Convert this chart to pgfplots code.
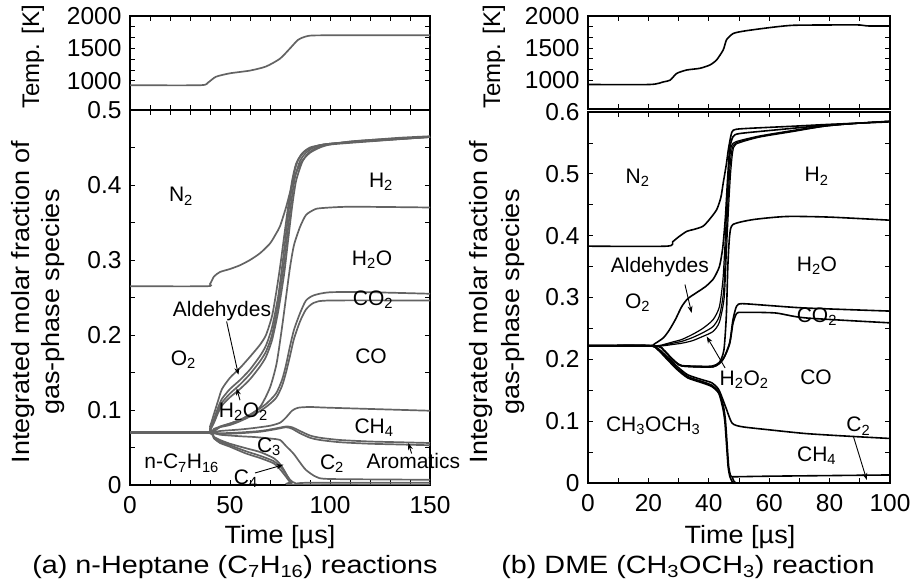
\documentclass[border=0pt]{standalone}
\usepackage{fontspec}
\setmainfont{Liberation Sans}
\newfontfamily\wide{Liberation Sans}[FakeStretch=1.08]
\newfontfamily\wider{Liberation Sans}[FakeStretch=1.15]
\usepackage{pgfplots}
\pgfplotsset{compat=1.18}
\usetikzlibrary{arrows.meta}
\definecolor{lg}{HTML}{636363}
\newcommand{\sub}[1]{\textsubscript{#1}}
\pgfplotsset{
  base/.style={scale only axis, tick align=inside, major tick length=5pt, minor tick length=5pt,
    every tick/.style={black, line width=0.8pt},
    ticklabel style={font=\fontsize{24.5}{24.5}\selectfont},
    yticklabel style={xshift=-5pt},
    xticklabel style={yshift=-8pt},
    /pgf/number format/assume math mode=true,
    /pgf/number format/1000 sep={},
    clip mode=individual,
    every axis plot/.append style={no marks, smooth, tension=0.4}},
}
\tikzset{
  lp/.style={lg, line width=1.7pt},
  rp/.style={black, line width=1.6pt},
  spec/.style={font=\fontsize{21}{21}\selectfont},
  arr/.style={-{Stealth[length=7pt,width=5pt]}, line width=0.9pt, black},
}
\begin{document}
\begin{tikzpicture}
\useasboundingbox (0pt,0pt) rectangle (910pt,583pt);
% ===== Left top: temperature =====
\begin{axis}[base, at={(130pt,473pt)}, anchor=south west, width=300pt, height=94pt,
  xmin=0, xmax=150, ymin=550, ymax=2000, xtick={0,50,100,150}, xticklabels={},
  minor x tick num=4, ytick={1000,1500,2000}, minor y tick num=2, axis line style={line width=1.2pt}]
\addplot[lp] coordinates {(0,932)(35,932)(39,973)(43,1063)(50,1116)(60,1158)(68,1221)(75,1342)(80,1500)(84,1632)(87.5,1680)(91.7,1700)(110,1702)(150,1702)};
\end{axis}
% ===== Left bottom: species =====
\begin{axis}[base, at={(130pt,98pt)}, anchor=south west, width=300pt, height=375pt,
  xmin=0, xmax=150, ymin=0, ymax=0.5, xtick={0,50,100,150}, minor x tick num=4,
  ytick={0,0.1,0.2,0.3,0.4,0.5}, minor y tick num=1, axis line style={line width=1.2pt},
  yticklabel style={/pgf/number format/fixed, /pgf/number format/precision=1}]
% N2 boundary
\addplot[lp] coordinates {(0,0.265)(38,0.265)(40,0.268)(42,0.278)(45,0.284)(50,0.288)(55,0.293)(60,0.300)(65,0.309)(70,0.322)(73,0.335)(75,0.345)(78,0.37)(80,0.39)(83,0.416)(86,0.432)(90,0.443)(95,0.450)(100,0.454)(110,0.458)(120,0.460)(135,0.463)(150,0.465)};
% O2 / aldehydes / H2O2 group
\addplot[lp] coordinates {(0,0.07)(38,0.07)(40,0.078)(42,0.095)(44,0.112)(46,0.128)(50,0.143)(55,0.156)(60,0.171)(65,0.187)(68,0.2)(71,0.225)(73,0.255)(75,0.29)(77,0.33)(79,0.37)(81,0.405)(83,0.428)(86,0.442)(90,0.45)(95,0.453)(100,0.455)(120,0.46)(150,0.464)};
\addplot[lp] coordinates {(0,0.07)(38,0.07)(40,0.075)(42,0.088)(44,0.103)(46,0.115)(50,0.128)(55,0.14)(60,0.154)(65,0.172)(68,0.186)(71,0.21)(74,0.25)(76,0.29)(78,0.335)(80,0.38)(82,0.415)(84,0.433)(87,0.444)(90,0.449)(100,0.455)(150,0.464)};
\addplot[lp] coordinates {(0,0.07)(38,0.07)(40,0.074)(42,0.085)(44,0.099)(46,0.11)(50,0.122)(55,0.134)(60,0.148)(65,0.165)(68,0.178)(71,0.2)(74,0.24)(76.5,0.285)(78.5,0.33)(80.5,0.375)(82.5,0.41)(85,0.432)(88,0.443)(92,0.45)(100,0.455)(150,0.464)};
\addplot[lp] coordinates {(0,0.07)(38,0.07)(40,0.073)(42,0.083)(44,0.096)(46,0.106)(50,0.117)(55,0.128)(60,0.141)(65,0.158)(68,0.171)(71,0.193)(74,0.23)(77,0.28)(79,0.325)(81,0.37)(83,0.405)(86,0.43)(89,0.442)(93,0.449)(100,0.454)(150,0.464)};
% H2O top
\addplot[lp] coordinates {(0,0.07)(38,0.07)(42,0.075)(50,0.082)(58,0.09)(65,0.104)(70,0.13)(73.3,0.162)(76,0.21)(78,0.25)(80,0.29)(82,0.32)(85,0.344)(88,0.36)(92,0.367)(95,0.369)(110,0.371)(150,0.37)};
% CO2 top, CO top
\addplot[lp] coordinates {(0,0.07)(38,0.07)(45,0.078)(50,0.082)(55,0.087)(62,0.097)(68,0.108)(73,0.122)(76,0.14)(78,0.16)(80,0.185)(82,0.207)(85,0.229)(88,0.246)(92,0.253)(100,0.257)(120,0.257)(150,0.255)};
\addplot[lp] coordinates {(0,0.07)(38,0.07)(45,0.077)(50,0.080)(55,0.085)(62,0.094)(68,0.104)(73,0.116)(76,0.132)(78,0.15)(80,0.172)(82,0.195)(85,0.218)(88,0.234)(92,0.243)(100,0.246)(150,0.246)};
% CH4 top
\addplot[lp] coordinates {(0,0.07)(38,0.07)(45,0.072)(55,0.074)(62,0.076)(70,0.079)(75,0.083)(78,0.09)(81,0.099)(84,0.103)(90,0.104)(100,0.103)(150,0.099)};
% Aromatics
\addplot[lp] coordinates {(0,0.07)(38,0.07)(45,0.069)(55,0.07)(65,0.072)(72,0.075)(78,0.078)(81,0.077)(85,0.072)(90,0.066)(95,0.063)(105,0.06)(120,0.058)(135,0.057)(150,0.056)};
\addplot[lp] coordinates {(0,0.07)(38,0.07)(45,0.068)(55,0.069)(65,0.071)(72,0.074)(78,0.077)(81,0.075)(85,0.069)(90,0.063)(95,0.06)(105,0.057)(120,0.055)(135,0.054)(150,0.053)};
% C3 top
\addplot[lp] coordinates {(0,0.07)(38,0.07)(45,0.067)(55,0.065)(62,0.064)(70,0.062)(75,0.06)(78,0.052)(81.7,0.042)(85,0.03)(88,0.02)(93,0.011)(100,0.008)(150,0.007)};
% C4 / n-C7H16
\addplot[lp] coordinates {(0,0.07)(38,0.07)(42,0.064)(45,0.06)(50,0.055)(58,0.049)(65,0.044)(71.7,0.036)(75,0.028)(77,0.02)(79,0.01)(81,0.003)(83,0.0)(150,0.0)};
\addplot[lp] coordinates {(0,0.07)(38,0.07)(42,0.063)(45,0.058)(50,0.053)(58,0.045)(65,0.039)(71.7,0.032)(75,0.025)(78,0.015)(80,0.007)(83,0.002)(90,0.003)(150,0.003)};
\addplot[lp] coordinates {(0,0.07)(38,0.07)(42,0.062)(45,0.056)(50,0.051)(58,0.042)(65,0.036)(71.7,0.029)(75,0.021)(78,0.011)(80,0.004)(82,0)(150,0)};
% labels
\node[spec] at (axis cs:25.5,0.385) {N\sub{2}};
\node[spec] at (axis cs:125.5,0.404) {H\sub{2}};
\node[spec] at (axis cs:121,0.301) {H\sub{2}O};
\node[spec] at (axis cs:121.5,0.247) {CO\sub{2}};
\node[spec] at (axis cs:120.5,0.172) {CO};
\node[spec] at (axis cs:122,0.077) {CH\sub{4}};
\node[spec] at (axis cs:26.7,0.167) {O\sub{2}};
\node[spec] at (axis cs:46,0.232) {Aldehydes};
\node[spec] at (axis cs:56.7,0.098) {H\sub{2}O\sub{2}};
\node[spec] at (axis cs:25.8,0.029) {n-C\sub{7}H\sub{16}};
\node[spec] at (axis cs:69.5,0.051) {C\sub{3}};
\node[spec] at (axis cs:57.9,0.009) {C\sub{4}};
\node[spec] at (axis cs:101,0.029) {C\sub{2}};
\node[spec] at (axis cs:141.7,0.032) {Aromatics};
\draw[arr] (axis cs:48.3,0.218) -- (axis cs:54.2,0.147);
\draw[arr] (axis cs:55,0.113) -- (axis cs:53.3,0.129);
\draw[arr] (axis cs:62.5,0.016) -- (axis cs:76.7,0.027);
\draw[arr] (axis cs:140.8,0.042) -- (axis cs:139.2,0.056);
\end{axis}
% ===== Right top: temperature =====
\begin{axis}[base, at={(588pt,474pt)}, anchor=south west, width=302pt, height=93pt,
  xmin=0, xmax=100, ymin=550, ymax=2000, xtick={0,20,40,60,80,100}, xticklabels={},
  minor x tick num=1, ytick={1000,1500,2000}, minor y tick num=2, axis line style={line width=1.8pt}]
\addplot[rp] coordinates {(0,932)(20.5,932)(25,973)(27.2,1000)(29.4,1105)(32.7,1158)(37,1184)(40.4,1237)(42.6,1316)(44.8,1474)(45.9,1632)(48.1,1727)(51.4,1763)(57,1800)(62.5,1832)(68,1855)(79,1860)(90,1860)(92.5,1845)(100,1845)};
\end{axis}
% ===== Right bottom: species =====
\begin{axis}[base, at={(588pt,100pt)}, anchor=south west, width=302pt, height=371pt,
  xmin=0, xmax=100, ymin=0, ymax=0.6, xtick={0,20,40,60,80,100}, minor x tick num=1,
  ytick={0,0.1,0.2,0.3,0.4,0.5,0.6}, minor y tick num=1, axis line style={line width=1.8pt},
  yticklabel style={/pgf/number format/fixed, /pgf/number format/precision=1}]
% N2
\addplot[rp] coordinates {(0,0.383)(26,0.383)(28,0.39)(30,0.398)(32.7,0.407)(35,0.41)(38,0.415)(40,0.425)(42.6,0.442)(44,0.462)(44.8,0.486)(45.8,0.515)(46.5,0.54)(47.6,0.567)(49,0.572)(55,0.574)(68,0.577)(80,0.58)(100,0.584)};
% aldehydes top (O2 bottom)
\addplot[rp] coordinates {(0,0.222)(20,0.222)(22,0.225)(25,0.235)(27,0.248)(29,0.265)(31,0.285)(33,0.298)(36,0.308)(39,0.318)(41.5,0.33)(43.5,0.35)(44.6,0.38)(45.5,0.43)(46.2,0.49)(46.9,0.54)(48,0.56)(50,0.565)(60,0.57)(80,0.579)(100,0.585)};
% H2O2 bundle
\addplot[rp, line width=1.2pt] coordinates {(0,0.222)(22,0.222)(25,0.224)(28,0.228)(31,0.232)(34.5,0.24)(38,0.25)(41.4,0.264)(43.5,0.285)(44.7,0.33)(45.5,0.4)(46.2,0.47)(46.8,0.52)(47.5,0.545)(49,0.552)(56.5,0.561)(67.5,0.57)(78.5,0.578)(90,0.582)(100,0.585)};
\addplot[rp, line width=1.2pt] coordinates {(0,0.222)(22,0.222)(25,0.223)(28,0.226)(31,0.229)(34.5,0.235)(38,0.243)(41.4,0.253)(43.5,0.27)(44.9,0.31)(45.7,0.39)(46.4,0.46)(47,0.51)(47.7,0.54)(49,0.55)(56.5,0.56)(67.5,0.569)(78.5,0.577)(90,0.582)(100,0.585)};
\addplot[rp, line width=1.2pt] coordinates {(0,0.222)(22,0.222)(25,0.222)(28,0.224)(31,0.226)(34.5,0.23)(38,0.237)(41.4,0.245)(43.5,0.26)(45.1,0.3)(45.9,0.38)(46.6,0.45)(47.2,0.5)(47.9,0.535)(49,0.548)(56.5,0.559)(67.5,0.568)(78.5,0.577)(90,0.582)(100,0.585)};
% H2O top
\addplot[rp] coordinates {(0,0.222)(22,0.222)(25,0.215)(27,0.205)(29,0.195)(31,0.19)(35,0.189)(41,0.189)(43.5,0.195)(45,0.215)(45.8,0.27)(46.3,0.35)(46.9,0.40)(48,0.418)(54.7,0.426)(65.7,0.431)(80,0.43)(100,0.425)};
% CO2 top, CO top
\addplot[rp] coordinates {(0,0.222)(22,0.222)(25,0.215)(27,0.205)(29.4,0.194)(31.6,0.189)(41.4,0.188)(44.7,0.2)(46.9,0.227)(48,0.264)(49.2,0.286)(51,0.29)(60,0.287)(72,0.283)(100,0.278)};
\addplot[rp] coordinates {(0,0.222)(22,0.222)(25,0.215)(27,0.205)(29.4,0.194)(31.6,0.189)(41.4,0.188)(44.7,0.2)(46.9,0.225)(48,0.258)(49.2,0.274)(51,0.276)(62,0.275)(72,0.267)(100,0.259)};
% CH4 top
\addplot[rp] coordinates {(0,0.222)(20,0.222)(23,0.218)(26,0.205)(29.4,0.189)(33,0.175)(37.8,0.167)(41,0.162)(43.3,0.151)(45.5,0.124)(47.7,0.097)(51,0.091)(60,0.086)(72,0.08)(85,0.076)(100,0.072)};
% CH3OCH3
\addplot[rp] coordinates {(0,0.222)(20,0.222)(23,0.217)(26,0.203)(29.4,0.186)(33,0.172)(37.8,0.164)(41,0.158)(43.3,0.147)(44.8,0.125)(45.5,0.102)(46.1,0.06)(46.6,0.026)(47.2,0.012)(47.7,0.01)(48.3,0.003)(49,0)};
\addplot[rp] coordinates {(0,0.222)(20,0.222)(23,0.216)(26,0.201)(29.4,0.184)(33,0.17)(37.8,0.162)(41,0.156)(43.3,0.145)(44.6,0.122)(45.3,0.1)(45.9,0.06)(46.4,0.026)(47,0.01)(48,0)};
% C2
\addplot[rp] coordinates {(47.7,0.01)(60,0.011)(80,0.012)(100,0.013)};
% labels
\node[spec] at (axis cs:16.4,0.494) {N\sub{2}};
\node[spec] at (axis cs:75.7,0.496) {H\sub{2}};
\node[spec] at (axis cs:75.8,0.352) {H\sub{2}O};
\node[spec] at (axis cs:23.8,0.349) {Aldehydes};
\node[spec] at (axis cs:16.4,0.292) {O\sub{2}};
\node[spec] at (axis cs:75.8,0.269) {CO\sub{2}};
\node[spec] at (axis cs:75.5,0.171) {CO};
\node[spec] at (axis cs:51.7,0.167) {H\sub{2}O\sub{2}};
\node[spec] at (axis cs:21.6,0.092) {CH\sub{3}OCH\sub{3}};
\node[spec] at (axis cs:75.7,0.044) {CH\sub{4}};
\node[spec] at (axis cs:89.5,0.092) {C\sub{2}};
\draw[arr] (axis cs:32.1,0.321) -- (axis cs:34.3,0.275);
\draw[arr] (axis cs:45.4,0.186) -- (axis cs:39.3,0.237);
\draw[arr] (axis cs:87.9,0.075) -- (axis cs:92.3,0.005);
\end{axis}
% ===== outer labels =====
\begin{scope}[every node/.style={font=\fontsize{24}{24}\selectfont}]
\node[rotate=90] at (33pt,526pt) {Temp. [K]};
\node[rotate=90, font=\wide\fontsize{25}{25}\selectfont] at (23pt,281pt) {Integrated molar fraction of};
\node[rotate=90, font=\wide\fontsize{25}{25}\selectfont] at (53pt,281pt) {gas-phase species};
\node[font=\wide\fontsize{25}{25}\selectfont] at (280pt,46pt) {Time [µs]};
\node[font=\wider\fontsize{25}{25}\selectfont] at (235pt,16pt) {(a) n-Heptane (C\sub{7}H\sub{16}) reactions};
\node[rotate=90] at (494pt,526pt) {Temp. [K]};
\node[rotate=90, font=\wide\fontsize{25}{25}\selectfont] at (481pt,281pt) {Integrated molar fraction of};
\node[rotate=90, font=\wide\fontsize{25}{25}\selectfont] at (513pt,281pt) {gas-phase species};
\node[font=\wide\fontsize{25}{25}\selectfont] at (740pt,46pt) {Time [µs]};
\node[font=\wider\fontsize{25}{25}\selectfont] at (688pt,16pt) {(b) DME (CH\sub{3}OCH\sub{3}) reaction};
\end{scope}
\end{tikzpicture}
\end{document}
